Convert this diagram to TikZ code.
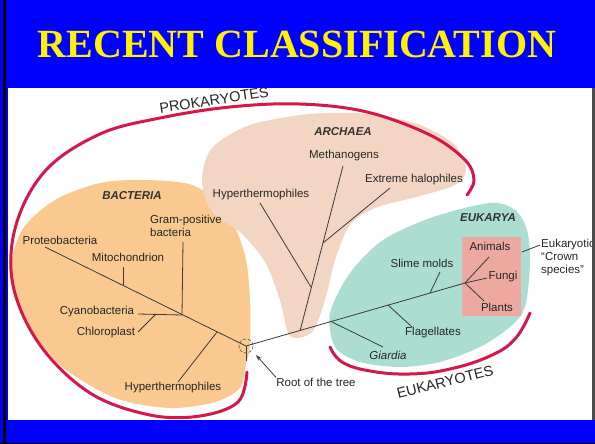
\documentclass[tikz,border=0pt]{standalone}
\usepackage{fontspec}
\setmainfont{Liberation Serif}
\setsansfont{Liberation Sans}
\usetikzlibrary{positioning,arrows.meta}
\definecolor{slideblue}{HTML}{0000FF}
\definecolor{bactfill}{HTML}{F9C98F}
\definecolor{archfill}{HTML}{F2D6C3}
\definecolor{eukfill}{HTML}{ABDDD1}
\definecolor{crownfill}{HTML}{EDA8A0}
\definecolor{cladered}{HTML}{D6174B}
\definecolor{treeline}{HTML}{3A3A3A}
\tikzset{
 lbl/.style={font=\sffamily\fontsize{11.5}{13.5}\selectfont, text=black!85, inner sep=0pt},
 grp/.style={font=\sffamily\bfseries\itshape\fontsize{11.5}{13.5}\selectfont, text=black!80, inner sep=0pt},
 clade/.style={font=\sffamily\fontsize{14.5}{16}\selectfont, text=black!85, inner sep=0pt},
 branch/.style={draw=treeline, line width=0.8pt},
 arc/.style={draw=cladered, line width=3pt, line cap=round},
}

\begin{document}
\begin{tikzpicture}[x=1pt,y=-1pt]
 \useasboundingbox (0,0) rectangle (595,444);
 \fill[slideblue] (0,0) rectangle (595,444);
 \fill[white] (8,88) rectangle (592,420);
 \fill[black] (3,0) rectangle (6,444);
 \fill[black] (0,443) rectangle (595,444);
 \node[font=\bfseries\fontsize{40}{44}\selectfont, text=yellow, inner sep=0pt] (title) at (297,44) {RECENT CLASSIFICATION};

 \fill[bactfill] plot[smooth cycle] coordinates {(10,275) (22,230) (55,200) (100,183) (145,180) (195,186) (228,215) (245,255) (250,300) (250,345) (246,364) (240,388) (215,402) (170,408) (115,398) (60,365) (25,320)};
 \fill[archfill] plot[smooth cycle] coordinates {(202,180) (212,148) (250,125) (310,114) (370,114) (420,125) (455,145) (466,170) (455,185) (420,196) (375,208) (350,225) (335,260) (325,300) (312,332) (290,336) (280,300) (265,262) (240,232) (212,212)};
 \fill[eukfill] plot[smooth cycle] coordinates {(330,313) (350,273) (383,240) (433,217) (490,203) (515,210) (527,230) (530,263) (525,307) (510,327) (480,347) (440,362) (400,367) (360,362) (335,347)};
 \fill[crownfill] (462,237) rectangle (521,316);

 \draw[arc] plot[smooth, tension=0.6] coordinates {(247,372) (238,402) (200,416) (150,415) (90,393) (40,345) (13,285) (16,225) (46,170) (100,134) (160,118) (230,107) (300,104) (367,112) (430,135) (465,160) (474,180) (467,195)};
 \draw[arc] plot[smooth, tension=0.7] coordinates {(330,347) (342,362) (370,371) (410,374) (450,369) (490,356) (515,339) (530,313)};

 \coordinate (root) at (246,346);
 \coordinate (rootstub) at (246,361);
 \coordinate (proto) at (45,247);
 \coordinate (mito) at (123,285); \coordinate (mitoend) at (123,267);
 \coordinate (gram) at (182,315); \coordinate (gramend) at (183,242);
 \coordinate (cyanoend) at (138,314);
 \coordinate (chloro) at (156,314); \coordinate (chloroend) at (138,332);
 \coordinate (bhyp) at (217,332); \coordinate (bhypend) at (178,382);
 \coordinate (arch) at (300,331); \coordinate (methend) at (343,166);
 \coordinate (halo) at (323,243); \coordinate (haloend) at (390,188);
 \coordinate (ahyp) at (311,287); \coordinate (ahypend) at (260,203);
 \coordinate (giard) at (332,322); \coordinate (giardend) at (383,347);
 \coordinate (flag) at (388,305); \coordinate (flagend) at (412,327);
 \coordinate (slime) at (430,293); \coordinate (slimeend) at (440,272);
 \coordinate (crown) at (465,283);
 \coordinate (animend) at (489,257); \coordinate (fungend) at (487,278); \coordinate (plantend) at (484,301);
 \coordinate (crownptr) at (522,252); \coordinate (crownptrend) at (540,245);
 \coordinate (rootptr) at (256,355);

 \draw[branch] (proto) -- (root) -- (crown);
 \draw[branch] (root) -- (rootstub);
 \draw[branch] (mito) -- (mitoend);
 \draw[branch] (gram) -- (gramend);
 \draw[branch] (gram) -- (cyanoend);
 \draw[branch] (chloro) -- (chloroend);
 \draw[branch] (bhyp) -- (bhypend);
 \draw[branch] (arch) -- (methend);
 \draw[branch] (halo) -- (haloend);
 \draw[branch] (ahyp) -- (ahypend);
 \draw[branch] (giard) -- (giardend);
 \draw[branch] (flag) -- (flagend);
 \draw[branch] (slime) -- (slimeend);
 \draw[branch] (crown) -- (animend);
 \draw[branch] (crown) -- (fungend);
 \draw[branch] (crown) -- (plantend);
 \draw[branch] (crownptr) -- (crownptrend);
 \draw[treeline, densely dashed, line width=0.5pt] (root) circle (7);

 \node[grp] (bacteria) at (132,196) {BACTERIA};
 \node[lbl] (proteo) at (60,240) {Proteobacteria};
 \node[lbl] (mitolbl) at (128,257) {Mitochondrion};
 \node[lbl, anchor=west, align=left] (gramlbl) at (150,226) {Gram-positive\\bacteria};
 \node[lbl] (cyano) at (97,312) {Cyanobacteria};
 \node[lbl] (chlorolbl) at (106,333) {Chloroplast};
 \node[lbl] (bhyplbl) at (173,388) {Hyperthermophiles};
 \node[grp] (archaea) at (343,132) {ARCHAEA};
 \node[lbl] (methlbl) at (344,156) {Methanogens};
 \node[lbl] (halolbl) at (414,180) {Extreme halophiles};
 \node[lbl] (ahyplbl) at (261,195) {Hyperthermophiles};
 \node[grp] (eukarya) at (488,218) {EUKARYA};
 \node[lbl] (slimelbl) at (422,263) {Slime molds};
 \node[lbl] (animlbl) at (490,246) {Animals};
 \node[lbl] (funglbl) at (503,277) {Fungi};
 \node[lbl] (plantlbl) at (497,307) {Plants};
 \node[lbl] (flaglbl) at (433,333) {Flagellates};
 \node[lbl, font=\sffamily\itshape\fontsize{11.5}{13.5}\selectfont] (giardlbl) at (388,355) {Giardia};
 \node[lbl, anchor=west, align=left, font=\sffamily\fontsize{11.5}{13}\selectfont] (crownlbl) at (541,258) {Eukaryotic\\“Crown\\species”};
 \node[lbl] (rootlbl) at (316,382) {Root of the tree};
 \draw[treeline, line width=0.8pt, -{Stealth[length=6pt,width=4pt]}] (rootlbl.north west) -- (rootptr);

 \node[clade, rotate=8.5] (prok) at (214,100) {PROKARYOTES};
 \node[clade, rotate=14] (euk) at (445,382) {EUKARYOTES};

 \fill[black!70] (592,88) rectangle (595,420);
\end{tikzpicture}
\end{document}
